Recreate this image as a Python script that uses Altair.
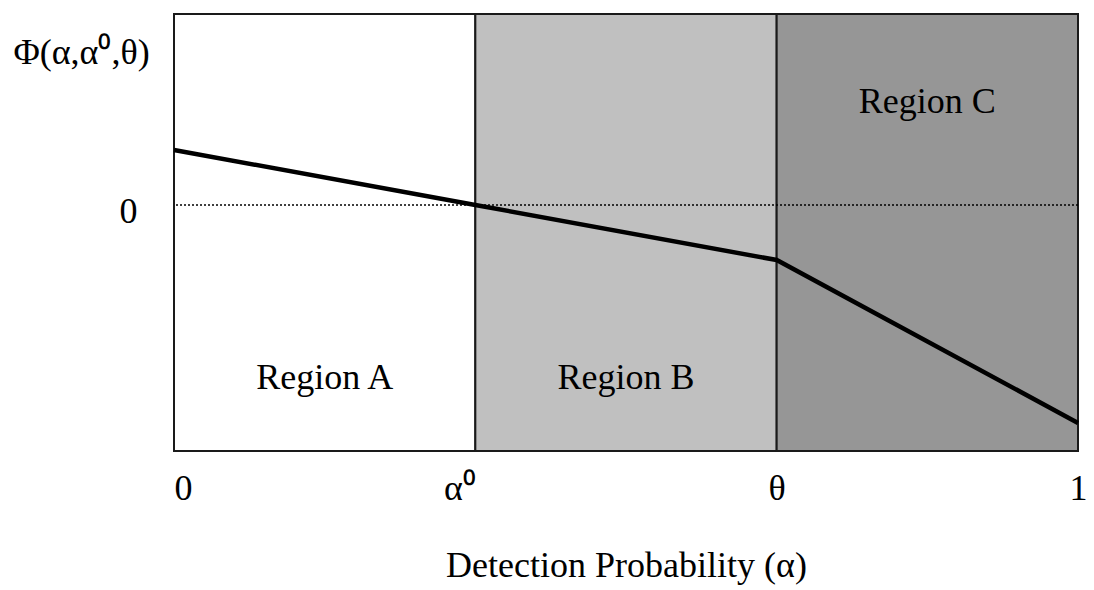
import altair as alt
import pandas as pd

# Region boundaries along the detection-probability axis
region_names = ["Region A", "Region B", "Region C"]
region_start = [0.0, 1 / 3, 2 / 3]
region_end = [1 / 3, 2 / 3, 1.0]
region_fill = ["#ffffff", "#c0c0c0", "#969696"]

# Region label anchors (x centre, y level)
label_x = [1 / 6, 1 / 2, 5 / 6]
label_y = [-3.15, -3.15, 1.87]

# Piecewise-linear Phi(alpha, alpha0, theta)
phi_alpha = [0.0, 1 / 3, 2 / 3, 1.0]
phi_value = [1.0, 0.0, -1.0, -3.96]

# Axis tick labels
x_tick_values = [0.0, 1 / 3, 2 / 3, 1.0]
x_tick_text = ["0", "α⁰", "θ", "1"]

Y_MIN, Y_MAX = -4.47, 3.47
FONT = "Liberation Serif"

regions = pd.DataFrame({
    "name": region_names, "x0": region_start, "x1": region_end,
    "fill": region_fill, "lx": label_x, "ly": label_y,
})
curve = pd.DataFrame({"alpha": phi_alpha, "phi": phi_value})

xscale = alt.Scale(domain=[0, 1], nice=False, zero=False)
yscale = alt.Scale(domain=[Y_MIN, Y_MAX], nice=False, zero=False)


def tick_key(v):
    # same string Vega's format(value, '.4~f') produces
    return f"{v:.4f}".rstrip("0").rstrip(".")


label_map = "{" + ",".join(
    f"'{tick_key(v)}':'{t}'" for v, t in zip(x_tick_values, x_tick_text)
) + "}"

x_axis = alt.Axis(
    values=x_tick_values,
    labelExpr=f"{label_map}[format(datum.value, '.4~f')]",
    ticks=False, domain=False, grid=False,
    labelFont=FONT, labelFontSize=36, labelColor="black",
    labelPadding=20, labelBaseline="top",
    labelAlign=alt.expr(
        "datum.value < 0.1 ? 'left' : (datum.value < 0.5 ? 'right' : 'center')"
    ),
    labelFlush=False, labelOverlap=False,
    title="Detection Probability (α)",
    titleFont=FONT, titleFontSize=36, titleFontWeight="normal",
    titleColor="black", titlePadding=42,
)

y_axis = alt.Axis(
    values=[0], labelExpr="'0'",
    ticks=False, domain=False, grid=False,
    labelFont=FONT, labelFontSize=36, labelColor="black",
    labelPadding=37, labelOffset=7,
    title="Φ(α,α⁰,θ)", titleAngle=0,
    titleFont=FONT, titleFontSize=36, titleFontWeight="normal",
    titleColor="black", titleAlign="center", titleBaseline="middle",
    titleX=-93, titleY=38,
)

bands = alt.Chart(regions).mark_rect(stroke="#1a1a1a", strokeWidth=2).encode(
    x=alt.X("x0:Q", scale=xscale, axis=x_axis),
    x2="x1:Q",
    y=alt.value(0),
    y2=alt.value(437),
    fill=alt.Fill("fill:N", scale=None),
)

zero_line = alt.Chart(pd.DataFrame({"y": [0.0]})).mark_rule(
    color="black", strokeWidth=1.5, strokeDash=[2, 2]
).encode(y=alt.Y("y:Q", scale=yscale, axis=y_axis))

line = alt.Chart(curve).mark_line(color="black", strokeWidth=4.5).encode(
    x=alt.X("alpha:Q", scale=xscale),
    y=alt.Y("phi:Q", scale=yscale),
)

labels = alt.Chart(regions).mark_text(
    font=FONT, fontSize=36, color="black", align="center", baseline="middle"
).encode(
    x=alt.X("lx:Q", scale=xscale),
    y=alt.Y("ly:Q", scale=yscale),
    text="name:N",
)

chart = alt.layer(bands, zero_line, line, labels).properties(
    width=904, height=437,
    autosize=alt.AutoSizeParams(type="none"),
    padding={"left": 174, "top": 14, "right": 16, "bottom": 139},
    background="white",
).configure_view(stroke="#1a1a1a", strokeWidth=2)

chart.save("out.html", embed_options={"renderer": "svg", "actions": False})
